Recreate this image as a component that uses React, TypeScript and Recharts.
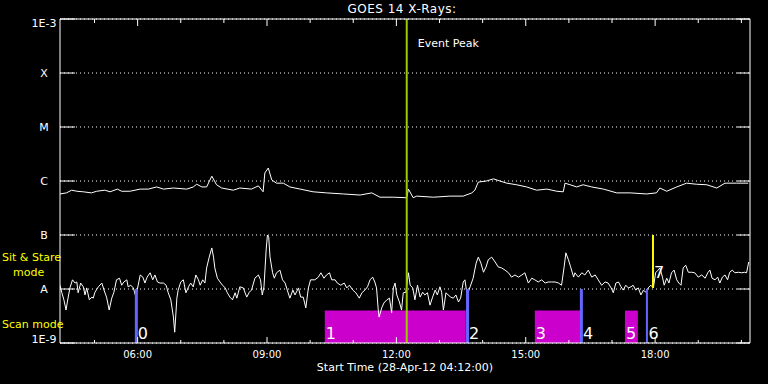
import React from 'react'
import { LineChart, Line, XAxis, YAxis, CartesianGrid, ReferenceLine, ReferenceArea } from 'recharts'

// GOES 14 X-ray flux, log10(W/m^2), time in decimal hours (UT, 28-Apr-12)
const SHORT_TIMES = [
  4.2, 4.24, 4.29, 4.34, 4.37, 4.43, 4.49, 4.55, 4.59, 4.62,
  4.68, 4.74, 4.78, 4.82, 4.88, 4.94, 4.97, 5.01, 5.09, 5.17,
  5.22, 5.28, 5.34, 5.4, 5.45, 5.51, 5.58, 5.63, 5.68, 5.75,
  5.78, 5.84, 5.9, 5.96, 5.99, 6.06, 6.12, 6.17, 6.22, 6.29,
  6.35, 6.4, 6.46, 6.52, 6.6, 6.66, 6.71, 6.77, 6.83, 6.86,
  6.91, 6.94, 7.0, 7.06, 7.12, 7.18, 7.23, 7.29, 7.35, 7.41,
  7.45, 7.51, 7.56, 7.6, 7.66, 7.72, 7.76, 7.79, 7.85, 7.91,
  7.97, 8.03, 8.08, 8.14, 8.2, 8.26, 8.3, 8.37, 8.45, 8.53,
  8.59, 8.64, 8.72, 8.8, 8.85, 8.89, 8.93, 8.98, 9.01, 9.04,
  9.07, 9.13, 9.17, 9.22, 9.3, 9.36, 9.42, 9.47, 9.53, 9.6,
  9.65, 9.73, 9.78, 9.84, 9.9, 9.96, 10.01, 10.11, 10.19, 10.25,
  10.32, 10.38, 10.45, 10.5, 10.58, 10.63, 10.71, 10.79, 10.85, 10.91,
  10.99, 11.06, 11.14, 11.2, 11.27, 11.33, 11.39, 11.45, 11.5, 11.54,
  11.58, 11.6, 11.66, 11.71, 11.78, 11.84, 11.89, 11.93, 11.97, 12.01,
  12.07, 12.12, 12.16, 12.22, 12.28, 12.32, 12.38, 12.43, 12.49, 12.55,
  12.61, 12.66, 12.72, 12.78, 12.84, 12.9, 12.95, 13.01, 13.05, 13.09,
  13.15, 13.2, 13.26, 13.32, 13.38, 13.44, 13.49, 13.55, 13.59, 13.64,
  13.71, 13.78, 13.85, 13.9, 13.96, 14.02, 14.08, 14.13, 14.21, 14.29,
  14.36, 14.44, 14.52, 14.6, 14.67, 14.75, 14.83, 14.91, 14.98, 15.06,
  15.14, 15.21, 15.29, 15.37, 15.45, 15.52, 15.6, 15.68, 15.76, 15.83,
  15.89, 15.93, 15.99, 16.04, 16.11, 16.14, 16.22, 16.3, 16.37, 16.45,
  16.53, 16.61, 16.68, 16.76, 16.84, 16.91, 16.98, 17.03, 17.09, 17.15,
  17.21, 17.26, 17.32, 17.38, 17.44, 17.49, 17.55, 17.61, 17.67, 17.73,
  17.78, 17.84, 17.9, 17.96, 18.01, 18.07, 18.11, 18.17, 18.21, 18.27,
  18.32, 18.38, 18.44, 18.5, 18.55, 18.6, 18.65, 18.71, 18.77, 18.85,
  18.92, 19.0, 19.08, 19.16, 19.22, 19.27, 19.32, 19.39, 19.45, 19.5,
  19.56, 19.62, 19.68, 19.73, 19.79, 19.85, 19.93, 20.01, 20.07, 20.12,
  20.17,
]
const SHORT_FLUX = [
  -7.93, -8.06, -8.2, -8.39, -8.24, -7.98, -7.83, -7.89, -7.87, -8.07,
  -7.89, -7.96, -8.11, -7.98, -8.2, -8.15, -8.17, -8.06, -7.96, -7.89,
  -8.02, -8.15, -8.39, -8.17, -8.06, -7.83, -7.8, -7.93, -7.87, -7.83,
  -7.96, -7.93, -7.98, -8.15, -8.02, -7.74, -7.78, -7.89, -7.78, -7.7,
  -7.83, -7.74, -7.87, -7.89, -7.89, -7.93, -8.07, -8.2, -8.52, -8.8,
  -8.17, -8.02, -7.87, -7.83, -8.07, -7.96, -7.89, -7.96, -7.74, -7.83,
  -7.93, -7.83, -7.89, -7.61, -7.41, -7.24, -7.41, -7.61, -7.8, -7.87,
  -7.93, -7.98, -8.07, -8.15, -8.2, -8.07, -8.17, -7.96, -7.98, -8.15,
  -8.06, -8.02, -7.8, -7.74, -7.83, -8.11, -7.96, -7.28, -7.0, -7.04,
  -7.41, -7.7, -7.8, -7.7, -7.65, -7.83, -7.89, -8.02, -8.17, -8.02,
  -8.11, -7.98, -8.15, -8.15, -8.35, -7.98, -7.83, -7.83, -7.78, -7.7,
  -7.8, -7.74, -7.7, -7.83, -7.83, -7.89, -7.93, -7.89, -7.98, -7.93,
  -8.02, -8.07, -8.17, -8.07, -8.02, -7.96, -7.83, -7.78, -7.87, -7.98,
  -8.39, -8.52, -8.35, -8.26, -8.2, -8.17, -8.44, -7.98, -7.89, -8.11,
  -8.24, -8.39, -8.07, -8.06, -7.7, -7.93, -7.98, -8.2, -7.93, -8.15,
  -8.06, -8.11, -8.07, -8.3, -8.15, -8.02, -8.11, -7.96, -8.06, -8.39,
  -8.07, -8.11, -8.15, -8.17, -8.11, -8.24, -8.17, -7.87, -7.83, -8.11,
  -7.96, -7.8, -7.52, -7.41, -7.52, -7.69, -7.59, -7.46, -7.41, -7.5,
  -7.59, -7.61, -7.65, -7.7, -7.78, -7.74, -7.78, -7.74, -7.7, -7.89,
  -7.8, -7.83, -7.87, -7.83, -7.89, -7.87, -7.87, -7.87, -7.89, -7.93,
  -7.59, -7.33, -7.46, -7.59, -7.78, -7.7, -7.78, -7.7, -7.74, -7.65,
  -7.78, -7.74, -7.83, -7.93, -7.87, -7.89, -7.98, -8.07, -7.89, -7.87,
  -7.96, -8.02, -7.93, -7.98, -7.96, -7.93, -8.02, -7.98, -8.11, -8.02,
  -8.06, -7.98, -7.93, -7.98, -7.7, -7.65, -7.61, -7.78, -7.93, -7.8,
  -7.89, -7.7, -7.65, -7.83, -7.89, -7.93, -7.61, -7.56, -7.69, -7.69,
  -7.7, -7.78, -7.74, -7.8, -7.7, -7.65, -7.8, -7.83, -7.78, -7.89,
  -7.78, -7.74, -7.83, -7.69, -7.65, -7.7, -7.69, -7.7, -7.69, -7.7,
  -7.5,
]

const LONG_TIMES = [
  4.2, 4.35, 4.47, 4.59, 4.74, 4.93, 5.05, 5.24, 5.36, 5.53,
  5.63, 5.82, 6.06, 6.25, 6.44, 6.6, 6.83, 7.14, 7.29, 7.37,
  7.49, 7.6, 7.72, 7.83, 7.95, 8.22, 8.37, 8.64, 8.8, 8.91,
  8.95, 9.03, 9.11, 9.22, 9.38, 9.53, 9.77, 10.07, 10.38, 10.77,
  11.16, 11.43, 11.62, 11.93, 12.24, 12.28, 12.39, 12.47, 12.86, 13.24,
  13.55, 13.75, 13.82, 13.9, 14.09, 14.25, 14.4, 14.56, 14.79, 15.02,
  15.25, 15.49, 15.72, 15.87, 15.91, 16.03, 16.18, 16.33, 16.53, 16.8,
  17.11, 17.42, 17.8, 18.03, 18.11, 18.27, 18.5, 18.73, 18.96, 19.2,
  19.43, 19.62, 19.89, 20.16,
]
const LONG_FLUX = [
  -6.24, -6.22, -6.17, -6.19, -6.2, -6.22, -6.19, -6.17, -6.2, -6.15,
  -6.19, -6.19, -6.15, -6.15, -6.11, -6.15, -6.13, -6.15, -6.11, -6.06,
  -6.11, -6.11, -5.91, -6.07, -6.13, -6.17, -6.13, -6.15, -6.09, -6.2,
  -5.85, -5.76, -5.98, -6.04, -6.04, -6.11, -6.15, -6.2, -6.22, -6.24,
  -6.26, -6.22, -6.3, -6.3, -6.31, -6.15, -6.31, -6.28, -6.3, -6.28,
  -6.28, -6.22, -6.17, -6.02, -6.0, -5.96, -6.0, -6.04, -6.07, -6.11,
  -6.17, -6.15, -6.19, -6.2, -6.04, -6.07, -6.11, -6.07, -6.11, -6.15,
  -6.22, -6.22, -6.24, -6.22, -6.13, -6.19, -6.11, -6.04, -6.06, -6.07,
  -6.13, -6.04, -6.04, -6.04,
]

const LEVELS = [-9, -8, -7, -6, -5, -4, -3]
const LEVEL_NAMES = ['1E-9', 'A', 'B', 'C', 'M', 'X', '1E-3']
const HOURS = [5, 6, 7, 8, 9, 10, 11, 12, 13, 14, 15, 16, 17, 18, 19, 20]

const EVENT_PEAK = 12.24
const SCAN_STARTS = [10.34, 15.21, 17.3]
const SCAN_ENDS = [13.61, 16.26, 17.6]
const SCAN_NAMES = ['1', '3', '5']
const SCAN_TOP = -8.4
const SWITCH_TIMES = [5.97, 13.65, 16.29, 17.81]
const SWITCH_NAMES = ['0', '2', '4', '6']
const SWITCH_WIDTHS = [3, 3, 3, 2]
const STARE_TIME = 17.95
const STARE_NAME = '7'

const shortData = SHORT_TIMES.map((t, i) => ({ t, flux: SHORT_FLUX[i] }))
const longData = LONG_TIMES.map((t, i) => ({ t, flux: LONG_FLUX[i] }))

const FONT = 'DejaVu Sans, sans-serif'
const hhmm = (h: number) => `${String(h).padStart(2, '0')}:00`

function BottomTick({ x, y, payload }: any) {
  const major = payload.value % 3 === 0
  return (
    <g>
      <line x1={x} x2={x} y1={y} y2={y - (major ? 6 : 3)} stroke="#fff" />
      {major && (
        <text x={x} y={y + 15} textAnchor="middle" fill="#fff" fontSize={10} fontFamily={FONT}>
          {hhmm(payload.value)}
        </text>
      )}
    </g>
  )
}

function TopTick({ x, y, payload }: any) {
  const major = payload.value % 3 === 0
  return <line x1={x} x2={x} y1={y} y2={y + (major ? 7 : 4)} stroke="#fff" />
}

function LeftTick({ x, y, payload }: any) {
  const v = payload.value
  const name = LEVEL_NAMES[LEVELS.indexOf(v)]
  let dy = 4
  if (v === -3) dy = 8
  if (v === -9) dy = 0
  return (
    <g>
      <line x1={x} x2={x + 15} y1={y} y2={y} stroke="#fff" />
      <text x={44} y={y} dy={dy} textAnchor="middle" fill="#fff" fontSize={11} fontFamily={FONT}>
        {name}
      </text>
    </g>
  )
}

function RightTick({ x, y }: any) {
  return <line x1={x} x2={x - 13} y1={y} y2={y} stroke="#fff" />
}

const numberLabel = (text: string, dx: number, fromBottom: number) => (props: any) => {
  const vb = props.viewBox
  return (
    <text x={vb.x + dx} y={vb.y + vb.height - fromBottom} fill="#fff" fontSize={16} fontFamily={FONT}>
      {text}
    </text>
  )
}

const peakLabel = (props: any) => {
  const vb = props.viewBox
  return (
    <text x={vb.x + 11} y={vb.y + 28} fill="#fff" fontSize={11} fontFamily={FONT}>
      Event Peak
    </text>
  )
}

export default function App() {
  return (
    <div style={{ position: 'absolute', left: 0, top: 0, width: 768, height: 384, background: '#000' }}>
      <LineChart width={768} height={384} data={shortData} margin={{ top: 0, right: 0, bottom: 0, left: 0 }}>
        <CartesianGrid vertical={false} stroke="#fff" strokeDasharray="1 3" />
        <XAxis
          dataKey="t"
          type="number"
          domain={[4.2, 20.2]}
          ticks={HOURS}
          interval={0}
          height={41}
          tickSize={0}
          tickMargin={0}
          tick={<BottomTick />}
          axisLine={{ stroke: '#fff' }}
          allowDataOverflow
          label={{ value: 'Start Time (28-Apr-12 04:12:00)', position: 'insideBottom', offset: 13, fill: '#fff', fontSize: 11, fontFamily: FONT }}
        />
        <XAxis
          xAxisId="top"
          orientation="top"
          dataKey="t"
          type="number"
          domain={[4.2, 20.2]}
          ticks={HOURS}
          interval={0}
          height={19}
          tickSize={0}
          tickMargin={0}
          tick={<TopTick />}
          axisLine={{ stroke: '#fff' }}
          allowDataOverflow
        />
        <YAxis
          type="number"
          domain={[-9, -3]}
          ticks={LEVELS}
          interval={0}
          width={60}
          tickSize={0}
          tickMargin={0}
          tick={<LeftTick />}
          axisLine={{ stroke: '#fff' }}
          allowDataOverflow
        />
        <YAxis
          yAxisId="right"
          orientation="right"
          type="number"
          domain={[-9, -3]}
          ticks={LEVELS}
          interval={0}
          width={18}
          tickSize={0}
          tickMargin={0}
          tick={<RightTick />}
          axisLine={{ stroke: '#fff' }}
          allowDataOverflow
        />
        {SCAN_STARTS.map((s, i) => (
          <ReferenceArea
            key={'scan' + i}
            x1={s}
            x2={SCAN_ENDS[i]}
            y1={-9}
            y2={SCAN_TOP}
            fill="#CC00CC"
            fillOpacity={1}
            stroke="none"
            label={{ content: numberLabel(SCAN_NAMES[i], 1, 4) }}
          />
        ))}
        <Line data={longData} dataKey="flux" type="linear" stroke="#fff" strokeWidth={1} dot={false} isAnimationActive={false} />
        <Line data={shortData} dataKey="flux" type="linear" stroke="#fff" strokeWidth={1} dot={false} isAnimationActive={false} />
        <ReferenceLine x={EVENT_PEAK} stroke="#99CC00" strokeWidth={2} label={{ content: peakLabel }} />
        {SWITCH_TIMES.map((t, i) => (
          <ReferenceLine
            key={'sw' + i}
            segment={[{ x: t, y: -9 }, { x: t, y: -8 }]}
            stroke="#6666FF"
            strokeWidth={SWITCH_WIDTHS[i]}
            label={{ content: numberLabel(SWITCH_NAMES[i], 1.5, 4) }}
          />
        ))}
        <ReferenceLine
          segment={[{ x: STARE_TIME, y: -7 }, { x: STARE_TIME, y: -7.98 }]}
          stroke="#FFFF00"
          strokeWidth={2}
          label={{ content: numberLabel(STARE_NAME, 1, 10) }}
        />
      </LineChart>
      <svg width={768} height={384} style={{ position: 'absolute', left: 0, top: 0, pointerEvents: 'none' }}>
        <text x={402} y={13} textAnchor="middle" fill="#fff" fontSize={12} letterSpacing={0.5} fontFamily={FONT}>
          GOES 14 X-Rays:
        </text>
        <text x={2} y={261} fill="#FFFF00" fontSize={11} fontFamily={FONT}>Sit &amp; Stare</text>
        <text x={13} y={276} fill="#FFFF00" fontSize={11} fontFamily={FONT}>mode</text>
        <text x={2} y={328} fill="#FFFF00" fontSize={11} fontFamily={FONT}>Scan mode</text>
      </svg>
    </div>
  )
}
